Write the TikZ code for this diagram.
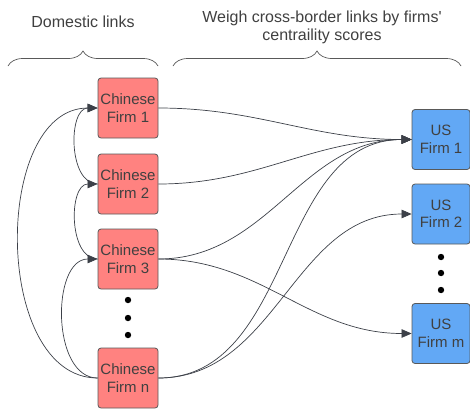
\documentclass[tikz,border=0pt]{standalone}
\usepackage{fontspec}
\setmainfont{Liberation Sans}
\usetikzlibrary{arrows.meta,decorations.pathreplacing}

\definecolor{cnred}{RGB}{255,130,128}
\definecolor{usblue}{RGB}{98,168,245}
\definecolor{edgegray}{RGB}{60,64,72}

\begin{document}
\begin{tikzpicture}[x=1pt,y=-1pt,
    firm/.style={draw=gray!70!black, line width=0.8pt, rounded corners=3pt,
        minimum width=60pt, minimum height=60pt, inner sep=0pt, align=center,
        font=\fontsize{15}{17.5}\selectfont, text=black!75},
    cnfirm/.style={firm, fill=cnred},
    usfirm/.style={firm, fill=usblue, minimum width=58pt},
    link/.style={draw=edgegray, line width=0.7pt, -{Triangle[length=10pt,width=8.5pt]}},
    bracket/.style={draw=black!65, line width=0.7pt,
        decorate, decoration={brace, amplitude=15pt}},
    heading/.style={align=center, font=\fontsize{16}{18}\selectfont, text=black!75}]
    \useasboundingbox (0,0) rectangle (470,408);

    % headings and braces
        \node[heading] (dom) at (83,22) {Domestic links};
        \node[heading] (cross) at (322,27) {Weigh cross-border links by firms\textquotesingle\\centraility scores};
        \draw[bracket] (8,66) -- (158,66);
        \draw[bracket] (173,66) -- (461,66);

    % chinese firms
        \node[cnfirm] (c1) at (128,108) {Chinese\\Firm 1};
        \node[cnfirm] (c2) at (128,184) {Chinese\\Firm 2};
        \node[cnfirm] (c3) at (128,259) {Chinese\\Firm 3};
        \node[cnfirm] (cn) at (128,378) {Chinese\\Firm n};

    % us firms
        \node[usfirm] (u1) at (441,139.5) {US\\Firm 1};
        \node[usfirm] (u2) at (441,214) {US\\Firm 2};
        \node[usfirm] (um) at (441,333.5) {US\\Firm m};

    % dots
        \foreach \y in {300,318,335} \fill (128,\y) circle (3.2);
        \foreach \y in {257,273,290} \fill (441,\y) circle (3.2);

    % domestic links
        \draw[link] (c2.west) to[out=180,in=180] (c1.west);
        \draw[link] (c3.west) to[out=180,in=180] (c2.west);
        \draw[link] (cn.west) to[out=180,in=180] (c3.west);
        \draw[link] (cn.west) to[out=180,in=180] (c1.west);

    % cross-border links
        \draw[link] (c1.east) to[out=0,in=180] (u1.west);
        \draw[link] (c2.east) to[out=0,in=180] (u1.west);
        \draw[link] (c3.east) to[out=0,in=180] (u1.west);
        \draw[link] (c3.east) to[out=0,in=180] (um.west);
        \draw[link] (cn.east) to[out=0,in=180] (u1.west);
        \draw[link] (cn.east) to[out=0,in=180] (u2.west);

\end{tikzpicture}
\end{document}
